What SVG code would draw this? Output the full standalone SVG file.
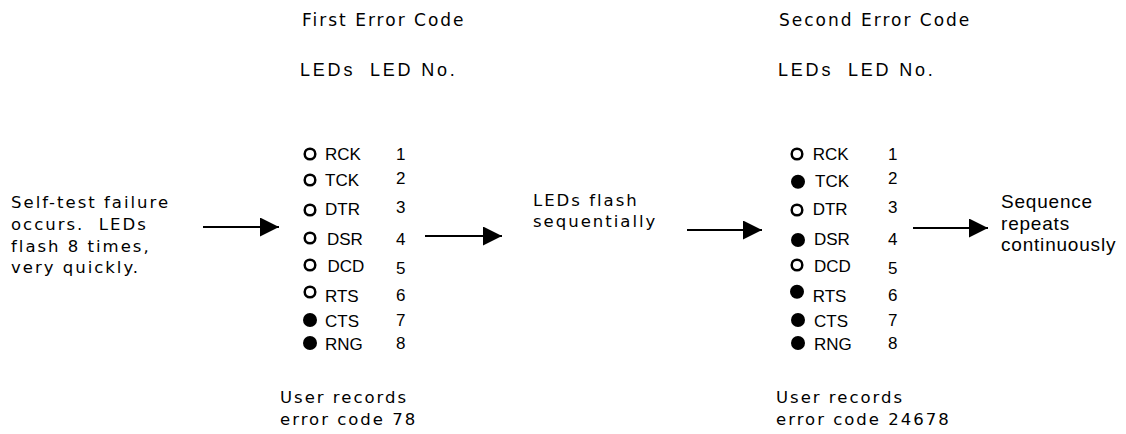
<svg xmlns="http://www.w3.org/2000/svg" width="1126" height="434" viewBox="0 0 1126 434">
<style>
.v{font-family:"DejaVu Sans",Verdana,sans-serif;font-size:16.5px;letter-spacing:2px;fill:#000}
.h{font-family:"DejaVu Sans",Verdana,sans-serif;font-size:17px;letter-spacing:2px;fill:#000}
.hl{font-family:"Liberation Sans",Arial,sans-serif;font-size:18px;letter-spacing:2.8px;fill:#000}
.a{font-family:"Liberation Sans",Arial,sans-serif;font-size:17px;fill:#000}
.s{font-family:"Liberation Sans",Arial,sans-serif;font-size:19px;letter-spacing:0.8px;fill:#000}
.off{fill:none;stroke:#000;stroke-width:2.5}
.on{fill:#000}
.conn line{stroke:#000;stroke-width:2}
</style>
<defs>
<marker id="ah" markerUnits="userSpaceOnUse" markerWidth="20" markerHeight="20" viewBox="0 0 20 20" refX="19" refY="9.5" orient="auto">
<path d="M0,0 L19,9.5 L0,19 z" fill="#000"/>
</marker>
</defs>

<g id="start">
<text class="v" x="11" y="208">Self-test failure</text>
<text class="v" x="11" y="230" xml:space="preserve">occurs.  LEDs</text>
<text class="v" x="11" y="251.5">flash 8 times,</text>
<text class="v" x="11" y="273">very quickly.</text>
</g>

<g id="first-code">
<text class="h" x="302" y="26">First Error Code</text>
<text class="hl" x="300" y="76">LEDs<tspan x="370">LED No.</tspan></text>
<circle class="off" cx="310" cy="154" r="5.3"/><text class="a" x="325" y="160">RCK</text><text class="a" x="396" y="160">1</text>
<circle class="off" cx="310" cy="180" r="5.3"/><text class="a" x="325" y="186">TCK</text><text class="a" x="396" y="184">2</text>
<circle class="off" cx="310" cy="210" r="5.3"/><text class="a" x="325" y="215">DTR</text><text class="a" x="396" y="213">3</text>
<circle class="off" cx="310" cy="238" r="5.3"/><text class="a" x="327" y="245">DSR</text><text class="a" x="396" y="245">4</text>
<circle class="off" cx="310" cy="265" r="5.3"/><text class="a" x="327.5" y="272">DCD</text><text class="a" x="396" y="274">5</text>
<circle class="off" cx="310" cy="292" r="5.3"/><text class="a" x="325" y="301.5">RTS</text><text class="a" x="396" y="301">6</text>
<circle class="on" cx="310" cy="320" r="7"/><text class="a" x="325" y="326.5">CTS</text><text class="a" x="396" y="326">7</text>
<circle class="on" cx="310" cy="343" r="7"/><text class="a" x="325" y="350">RNG</text><text class="a" x="396" y="349">8</text>
<text class="v" x="280" y="403">User records</text>
<text class="v" x="280" y="425">error code 78</text>
</g>

<g id="middle">
<text class="v" x="533" y="206">LEDs flash</text>
<text class="v" x="533" y="227">sequentially</text>
</g>

<g id="second-code">
<text class="h" x="779" y="26">Second Error Code</text>
<text class="hl" x="778" y="76">LEDs<tspan x="848">LED No.</tspan></text>
<circle class="off" cx="797" cy="154" r="5.3"/><text class="a" x="812.7" y="160">RCK</text><text class="a" x="888" y="160">1</text>
<circle class="on" cx="798" cy="181.7" r="7"/><text class="a" x="815" y="187">TCK</text><text class="a" x="888" y="184">2</text>
<circle class="off" cx="797" cy="210" r="5.3"/><text class="a" x="812.7" y="215">DTR</text><text class="a" x="888" y="213">3</text>
<circle class="on" cx="798" cy="240" r="7"/><text class="a" x="814" y="245">DSR</text><text class="a" x="888" y="245">4</text>
<circle class="off" cx="797" cy="265" r="5.3"/><text class="a" x="814" y="272">DCD</text><text class="a" x="888" y="274">5</text>
<circle class="on" cx="797" cy="291.7" r="7"/><text class="a" x="812.7" y="301.5">RTS</text><text class="a" x="888" y="301">6</text>
<circle class="on" cx="798" cy="320" r="7"/><text class="a" x="814" y="326.5">CTS</text><text class="a" x="888" y="326">7</text>
<circle class="on" cx="798" cy="343" r="7"/><text class="a" x="814" y="350">RNG</text><text class="a" x="888" y="349">8</text>
<text class="v" x="776" y="403">User records</text>
<text class="v" x="776" y="425">error code 24678</text>
</g>

<g id="end">
<text class="s" x="1001" y="208">Sequence</text>
<text class="s" x="1001" y="230">repeats</text>
<text class="s" x="1001" y="251">continuously</text>
</g>

<g id="connectors" class="conn">
<line x1="203" y1="227" x2="279" y2="227" marker-end="url(#ah)"/>
<line x1="425" y1="236" x2="502" y2="236" marker-end="url(#ah)"/>
<line x1="687" y1="230" x2="762" y2="230" marker-end="url(#ah)"/>
<line x1="913" y1="228" x2="988" y2="228" marker-end="url(#ah)"/>
</g>
</svg>
